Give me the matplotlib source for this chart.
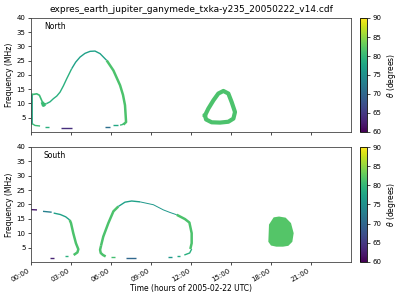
import matplotlib
matplotlib.use('Agg')
import matplotlib.pyplot as plt
from matplotlib.colors import Normalize
from matplotlib.cm import ScalarMappable

title = 'expres_earth_jupiter_ganymede_txka-y235_20050222_v14.cdf'
hour_ticks = [0, 3, 6, 9, 12, 15, 18, 21]
freq_ticks = [5, 10, 15, 20, 25, 30, 35, 40]
theta_ticks = [60, 65, 70, 75, 80, 85, 90]

# north: curves as (hours, MHz, theta deg, width)
north_curves = [
    ([0.03, 0.03], [2.9, 13.5], 78, 2.0),
    ([0.03, 0.18, 0.43, 0.63, 0.8, 0.93, 1.18], [13.3, 13.2, 13.4, 12.9, 11.1, 9.6, 10.0], 80.5, 1.2),
    ([0.85, 0.93, 1.05], [10.5, 9.4, 9.8], 80.5, 2.5),
    ([1.18, 1.43, 1.68, 1.93, 2.18, 2.43, 2.68, 2.85, 3.05], [10.0, 10.6, 11.7, 12.6, 14.0, 16.2, 18.7, 20.3, 22.2], 79, 1.0),
    ([3.05, 3.35, 3.68, 4.05, 4.43, 4.8, 5.18, 5.68], [22.2, 24.5, 26.3, 27.6, 28.3, 28.4, 27.5, 25.1], 77, 1.0),
    ([5.68, 6.18, 6.68, 6.9, 7.05, 7.13, 6.93], [25.1, 21.6, 16.4, 13.0, 9.4, 3.5, 2.6], 81.5, 1.8),
    ([0.1, 0.3, 0.68], [2.9, 2.3, 2.1], 80.5, 1.0),
    ([1.05, 1.35], [1.75, 1.75], 79, 1.0),
    ([2.25, 3.05], [1.4, 1.4], 64, 1.0),
    ([5.55, 5.93], [1.9, 1.9], 71, 1.0),
    ([6.18, 6.5], [2.3, 2.3], 78, 1.0),
    ([6.68, 6.85, 6.98], [2.4, 2.6, 3.0], 80.5, 1.0),
]
north_ring_t = [13.05, 13.3, 13.68, 14.05, 14.43, 14.8, 15.05, 15.3, 15.18, 14.8, 14.18, 13.55, 13.13, 13.05]
north_ring_f = [5.8, 8.2, 11.1, 13.5, 14.4, 13.5, 10.5, 7.0, 4.7, 3.6, 3.3, 3.4, 4.4, 5.8]
north_ring_theta = 81.5

# south
south_curves = [
    ([0.0, 0.45], [18.2, 18.1], 62, 1.0),
    ([0.9, 1.55], [17.6, 17.3], 73, 1.0),
    ([1.7, 2.2, 2.6, 2.9], [17.0, 16.5, 15.7, 14.6], 77, 1.0),
    ([2.9, 3.0, 3.17, 3.37, 3.55, 3.48, 3.2], [14.6, 13.5, 10.0, 6.5, 4.4, 3.3, 2.4], 81.5, 1.8),
    ([2.55, 2.75], [1.9, 1.9], 79, 1.0),
    ([1.4, 1.7], [1.3, 1.3], 63, 1.0),
    ([5.25, 5.18, 5.23, 5.4, 5.6], [5.6, 4.2, 3.1, 2.4, 1.9], 81.5, 1.8),
    ([6.0, 6.3], [1.6, 1.6], 81, 1.0),
    ([7.1, 7.85], [1.3, 1.3], 70, 1.0),
    ([10.3, 10.55], [1.6, 1.6], 76, 1.0),
    ([10.95, 11.2], [2.1, 2.1], 78, 1.0),
    ([11.5, 11.9, 12.05], [2.4, 3.1, 4.5], 79, 1.0),
    ([5.25, 5.42, 5.8, 6.18, 6.55], [5.6, 8.8, 13.5, 17.6, 19.3], 81.5, 1.8),
    ([6.55, 7.05, 7.55, 8.18], [19.3, 20.8, 21.2, 20.9], 77, 1.0),
    ([8.18, 9.18, 9.93, 10.43, 10.93], [20.9, 19.9, 18.1, 17.2, 16.4], 76, 0.7),
    ([10.93, 11.55, 11.88, 12.05, 12.05, 11.95], [16.4, 14.9, 13.7, 10.0, 6.5, 4.5], 81.5, 1.8),
]
south_blob_t = [17.8, 17.85, 18.2, 18.6, 19.1, 19.5, 19.7, 19.6, 19.3, 18.9, 18.4, 18.0, 17.8]
south_blob_f = [7.0, 13.0, 15.5, 15.8, 15.4, 13.5, 10.0, 7.0, 5.6, 5.3, 5.3, 5.7, 7.0]
south_blob_theta = 82

norm = Normalize(60, 90)
cmap = plt.get_cmap('viridis')

fig = plt.figure(figsize=(4, 3), dpi=100)
ax1 = fig.add_axes([0.0775, 0.56, 0.8, 0.38])
ax2 = fig.add_axes([0.0775, 0.127, 0.8, 0.383])
cax1 = fig.add_axes([0.9, 0.56, 0.018, 0.38])
cax2 = fig.add_axes([0.9, 0.127, 0.018, 0.383])

for t, f, th, w in north_curves:
    ax1.plot(t, f, color=cmap(norm(th)), lw=w, solid_capstyle='butt')
ax1.plot(north_ring_t, north_ring_f, color=cmap(norm(north_ring_theta)), lw=3)

for t, f, th, w in south_curves:
    ax2.plot(t, f, color=cmap(norm(th)), lw=w, solid_capstyle='butt')
ax2.fill(south_blob_t, south_blob_f, color=cmap(norm(south_blob_theta)), lw=0)

for ax, name in [(ax1, 'North'), (ax2, 'South')]:
    ax.set_xlim(0, 24)
    ax.set_ylim(0, 40)
    ax.set_xticks(hour_ticks)
    ax.set_yticks(freq_ticks)
    ax.tick_params(labelsize=5, length=2.5, width=0.5, pad=1.5)
    ax.set_ylabel('Frequency (MHz)', fontsize=5.5, labelpad=2)
    ax.text(0.04, 0.9, name, transform=ax.transAxes, fontsize=5.5)
    for s in ax.spines.values():
        s.set_linewidth(0.6)
        s.set_color('#444444')

ax1.set_xticklabels([])
ax2.set_xticklabels(['%02d:00' % h for h in hour_ticks], rotation=30, ha='right')
ax2.set_xlabel('Time (hours of 2005-02-22 UTC)', fontsize=5.5, labelpad=1)
ax1.set_title(title, fontsize=6.5, pad=4)

for cax in [cax1, cax2]:
    cb = fig.colorbar(ScalarMappable(norm=norm, cmap=cmap), cax=cax, ticks=theta_ticks)
    cb.set_label(r'$\theta$ (degrees)', fontsize=5.5, labelpad=3)
    cb.ax.tick_params(labelsize=5, length=2, width=0.5, pad=1.5)
    cb.outline.set_linewidth(0.6)

fig.savefig('out.png', dpi=100)
